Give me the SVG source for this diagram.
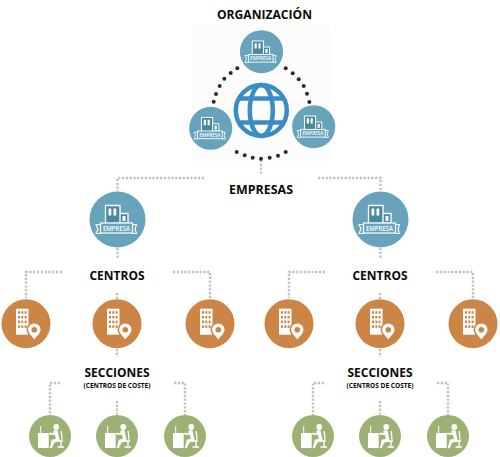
<svg xmlns="http://www.w3.org/2000/svg" width="500" height="457" viewBox="0 0 500 457">
<style>
.lbl{font-family:"Open Sans","Liberation Sans",sans-serif;font-weight:700;fill:#0a0a0a;text-anchor:middle}
.big{font-size:12.3px}
.sub{font-size:6.6px}
.conn{fill:none;stroke:#c0c0c0;stroke-width:2.4;stroke-dasharray:2.2 1.6}
.dot{fill:#2b2b2b}
.w{fill:#fff}
.ws{fill:none;stroke:#fff}
.blue{fill:#67a3bb}
.orange{fill:#cd8546}
.green{fill:#9db175}
</style>
<defs>
<g id="empresa-icon">
<circle r="28" class="blue"/>
<path d="M-12 4V-14H2.500V4ZM2.500-6H10.500V3.500H2.500Z" fill="#4a88a2" stroke="#fff" stroke-width="1.300"/>
<path d="M-9-11h2.800v7h-2.800zM-4-11h2.800v7h-2.800zM5-3.500h3v5h-3z" class="w"/>
<path d="M-17 5H-21.500L-19.500 9.500-21.500 14H-17M15 5H19L17.500 9.500 19 14H15" class="ws" stroke-width="1.100"/>
<rect x="-17" y="3.500" width="32" height="10" fill="#67a3bb" stroke="#fff" stroke-width="1.200"/>
<text x="-1" y="11.300" text-anchor="middle" font-family="Open Sans,Liberation Sans,sans-serif" font-size="6.400" font-weight="600" fill="#fff" textLength="27" lengthAdjust="spacingAndGlyphs">EMPRESA</text>
</g>
<g id="centro-icon">
<circle r="24.500" class="orange"/>
<path d="M-10-15H2.500V11H-10Z" class="w"/>
<g class="orange">
<rect x="-8" y="-12.500" width="2" height="2.600"/><rect x="-4.700" y="-12.500" width="2" height="2.600"/><rect x="-1.400" y="-12.500" width="2" height="2.600"/>
<rect x="-8" y="-7.800" width="2" height="2.600"/><rect x="-4.700" y="-7.800" width="2" height="2.600"/><rect x="-1.400" y="-7.800" width="2" height="2.600"/>
<rect x="-8" y="-3.100" width="2" height="2.600"/><rect x="-4.700" y="-3.100" width="2" height="2.600"/><rect x="-1.400" y="-3.100" width="2" height="2.600"/>
<rect x="-8" y="1.600" width="2" height="2.600"/><rect x="-4.700" y="1.600" width="2" height="2.600"/><rect x="-1.400" y="1.600" width="2" height="2.600"/>
</g>
<path d="M8.300 17C4.500 12 1.300 9.800 1.300 6a7 7 0 0 1 14 0C15.300 9.800 12 12 8.300 17Z" class="w" stroke="#cd8546" stroke-width="1.500"/>
<circle cx="8.300" cy="6" r="2.800" class="orange"/>
</g>
<g id="seccion-icon">
<circle r="21" class="green"/>
<path d="M-12-3H-1.300V12H-12Z" class="w"/>
<path d="M-9.300-10V-3" class="ws" stroke-width="1"/>
<circle cx="6.300" cy="-9" r="2.900" class="w"/>
<path d="M3.500-5.500L7.500-5.800 9.500 3.500V5.300L4.500 6.500 1.700 12.300H-.3L1.800 3.800 5.800 2.800 5-1-.8-1.500V-3.300L3.500-3Z" class="w"/>
<path d="M11.200-5L12 3.800M7 5H13M11 5V10.500M7.500 11H14" class="ws" stroke-width="1.300"/>
</g>
</defs>

<rect x="192" y="25" width="138" height="137" fill="#fcfcfc"/>

<g id="connectors">
<path class="conn" d="M261 160V175"/>
<path class="conn" d="M204 178H117.500V191M117.500 248V259"/>
<path class="conn" d="M318 178H380.500V191M380.500 248V259"/>
<path class="conn" d="M62 272H26V298M173 272H210V298M117 293V299M117 349V357"/>
<path class="conn" d="M325 272H289V298M436 272H473V298M380 293V299M380 349V357"/>
<path class="conn" d="M60 383H50V415M174 383H185V415M117 401V415"/>
<path class="conn" d="M324 383H313V415M437 383H448V415M380 401V415"/>
</g>

<g id="ring-dots">
<circle class="dot" cx="237.300" cy="68.300" r="2"/><circle class="dot" cx="230.700" cy="73" r="2"/><circle class="dot" cx="224.300" cy="78.700" r="2"/><circle class="dot" cx="219.700" cy="86" r="2"/><circle class="dot" cx="216" cy="94" r="2"/><circle class="dot" cx="213.700" cy="101.700" r="2"/>
<circle class="dot" cx="285.700" cy="68.300" r="2"/><circle class="dot" cx="292.700" cy="73.300" r="2"/><circle class="dot" cx="298.700" cy="79.300" r="2"/><circle class="dot" cx="303.700" cy="86" r="2"/><circle class="dot" cx="307" cy="93.700" r="2"/><circle class="dot" cx="309.300" cy="102" r="2"/>
<circle class="dot" cx="236.700" cy="152" r="2"/><circle class="dot" cx="244.700" cy="155.300" r="2"/><circle class="dot" cx="252.700" cy="157.700" r="2"/><circle class="dot" cx="261" cy="158.700" r="2"/><circle class="dot" cx="269.700" cy="157.700" r="2"/><circle class="dot" cx="278" cy="155.700" r="2"/><circle class="dot" cx="285.700" cy="152" r="2"/>
</g>

<g id="globo" fill="none" stroke="#3a8cc4" stroke-width="4.500">
<circle cx="261.300" cy="110.500" r="25.500"/>
<ellipse cx="261.300" cy="110.500" rx="11.500" ry="25.500"/>
<path d="M238.500 98.500H284M238.500 122.500H284"/>
</g>

<g id="org-empresa-1"><use href="#empresa-icon" transform="translate(261.500 51.700) scale(.77)"/></g>
<g id="org-empresa-2"><use href="#empresa-icon" transform="translate(210.700 128.300) scale(.77)"/></g>
<g id="org-empresa-3"><use href="#empresa-icon" transform="translate(313.700 126.700) scale(.77)"/></g>

<g id="empresa-a"><use href="#empresa-icon" transform="translate(117.500 219.500)"/></g>
<g id="empresa-b"><use href="#empresa-icon" transform="translate(380.500 219.500)"/></g>

<g id="centro-a1"><use href="#centro-icon" x="26" y="323.700"/></g>
<g id="centro-a2"><use href="#centro-icon" x="117" y="323.700"/></g>
<g id="centro-a3"><use href="#centro-icon" x="210" y="323.700"/></g>
<g id="centro-b1"><use href="#centro-icon" x="289" y="323.700"/></g>
<g id="centro-b2"><use href="#centro-icon" x="380" y="323.700"/></g>
<g id="centro-b3"><use href="#centro-icon" x="473" y="323.700"/></g>

<g id="seccion-a1"><use href="#seccion-icon" x="50" y="436"/></g>
<g id="seccion-a2"><use href="#seccion-icon" x="117" y="436"/></g>
<g id="seccion-a3"><use href="#seccion-icon" x="185" y="436"/></g>
<g id="seccion-b1"><use href="#seccion-icon" x="313" y="436"/></g>
<g id="seccion-b2"><use href="#seccion-icon" x="380" y="436"/></g>
<g id="seccion-b3"><use href="#seccion-icon" x="448" y="436"/></g>

<g id="labels">
<text class="lbl big" x="264.500" y="19" textLength="95" lengthAdjust="spacingAndGlyphs">ORGANIZACIÓN</text>
<text class="lbl big" x="261" y="194" textLength="64" lengthAdjust="spacingAndGlyphs">EMPRESAS</text>
<text class="lbl big" x="117" y="280" textLength="55" lengthAdjust="spacingAndGlyphs">CENTROS</text>
<text class="lbl big" x="380" y="280" textLength="55" lengthAdjust="spacingAndGlyphs">CENTROS</text>
<text class="lbl big" x="117" y="377" textLength="65" lengthAdjust="spacingAndGlyphs">SECCIONES</text>
<text class="lbl big" x="380" y="377" textLength="65" lengthAdjust="spacingAndGlyphs">SECCIONES</text>
<text class="lbl sub" x="117" y="388" textLength="67" lengthAdjust="spacingAndGlyphs">(CENTROS DE COSTE)</text>
<text class="lbl sub" x="380" y="388" textLength="67" lengthAdjust="spacingAndGlyphs">(CENTROS DE COSTE)</text>
</g>
</svg>
